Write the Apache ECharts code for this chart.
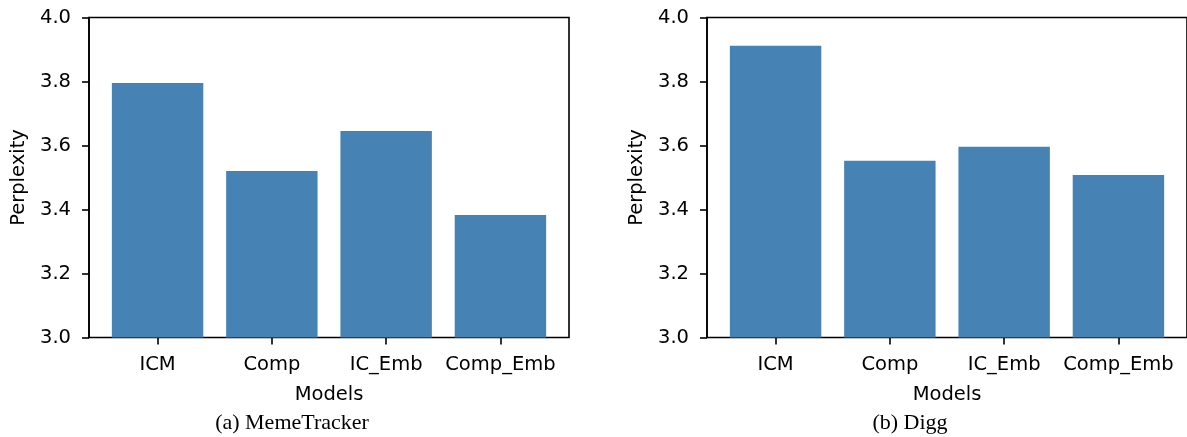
<!DOCTYPE html>
<html><head><meta charset="utf-8">
<script src="https://cdn.jsdelivr.net/npm/echarts@6/dist/echarts.min.js"></script>
<style>html,body{margin:0;padding:0;background:#fff}#c{width:1187px;height:437px}</style>
</head><body><div id="c"></div>
<script>
const categories = ['ICM', 'Comp', 'IC_Emb', 'Comp_Emb'];
const memeTracker = [3.795, 3.520, 3.645, 3.383];
const digg = [3.912, 3.552, 3.596, 3.508];
const yTicks = [3.0, 3.2, 3.4, 3.6, 3.8, 4.0];
const captions = ['(a) MemeTracker', '(b) Digg'];
const yName = 'Perplexity';
const xName = 'Models';

(function () {
const FONT = 'DejaVu Sans';
const FS = 19.5;
const chart = echarts.init(document.getElementById('c'), null, {renderer: 'canvas'});

const panels = [
  {frameLeft: 89, data: memeTracker, capX: 292},
  {frameLeft: 707, data: digg, capX: 910}
];
const gTop = 17.5, gH = 320, frameW = 480, catW = frameW / 4.2;

const grid = [], xAxis = [], yAxis = [], series = [], graphic = [];
panels.forEach((p, i) => {
  grid.push({left: p.frameLeft, top: gTop, width: frameW, height: gH, show: true, borderColor: '#000', borderWidth: 1.6, backgroundColor: 'transparent', containLabel: false});
  grid.push({left: p.frameLeft + 0.1 * catW, top: gTop, width: 4 * catW, height: gH, containLabel: false});
  const gf = 2 * i, gb = 2 * i + 1;
  xAxis.push({gridIndex: gf, type: 'value', show: false, min: 0, max: 1});
  xAxis.push({gridIndex: gb, type: 'category', data: categories,
    axisLine: {show: false},
    axisTick: {show: true, alignWithLabel: true, length: 7, lineStyle: {color: '#000', width: 1.6}},
    axisLabel: {color: '#000', fontFamily: FONT, fontSize: FS, margin: 17, interval: 0},
    name: xName, nameLocation: 'middle', nameGap: 47,
    nameTextStyle: {color: '#000', fontFamily: FONT, fontSize: FS}
  });
  yAxis.push({gridIndex: gf, type: 'value', min: yTicks[0], max: yTicks[yTicks.length - 1], interval: 0.2,
    axisLine: {show: true, lineStyle: {color: '#000', width: 1.6}},
    axisTick: {show: true, length: 7, lineStyle: {color: '#000', width: 1.6}},
    axisLabel: {color: '#000', fontFamily: FONT, fontSize: FS, margin: 18, formatter: v => v.toFixed(1)},
    splitLine: {show: false},
    name: yName, nameLocation: 'middle', nameRotate: 90, nameGap: 60,
    nameTextStyle: {color: '#000', fontFamily: FONT, fontSize: FS}
  });
  yAxis.push({gridIndex: gb, type: 'value', min: yTicks[0], max: yTicks[yTicks.length - 1], show: false, splitLine: {show: false}});
  series.push({type: 'bar', xAxisIndex: gb, yAxisIndex: gb, data: p.data, barWidth: '80%',
    itemStyle: {color: '#4682B4'}, silent: true, z: 1});
  graphic.push({type: 'text', x: p.capX, y: 423, style: {text: captions[i], fill: '#000',
    font: '22px "Liberation Serif"', textAlign: 'center', textVerticalAlign: 'middle'}});
});

chart.setOption({animation: false, backgroundColor: '#fff', grid, xAxis, yAxis, series, graphic});
})();
</script></body></html>
